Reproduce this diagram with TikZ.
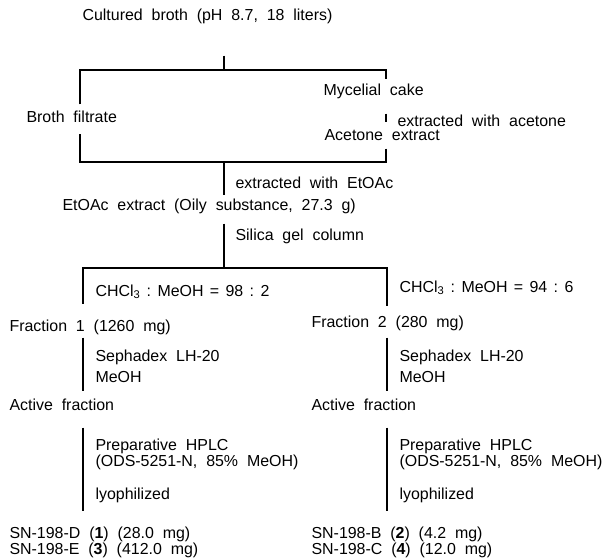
\documentclass[tikz,border=0pt]{standalone}
\usepackage{fontspec}
\setmainfont{Liberation Sans}[WordSpace=2]
\usetikzlibrary{positioning}

\newcommand\ratiosp{\hspace{0.4em}}

\tikzset{
  stage/.style={anchor=west, inner sep=0pt, text height=11.5bp, text depth=3.5bp},
  cond/.style={stage},
  block/.style={anchor=west, inner sep=0pt, align=left},
}

\begin{document}
\begin{tikzpicture}[x=1bp, y=-1bp, line width=1.1bp,
    font=\fontsize{16}{12.5}\selectfont]%

\useasboundingbox (0,0) rectangle (614,559);

\node [stage] (broth) at (82,17) {Cultured broth (pH 8.7, 18 liters)};
\node [stage] (filtrate) at (26,119) {Broth filtrate};
\node [stage] (mycelium) at (323,92) {Mycelial cake};
\node [stage] (acetone) at (324,137) {Acetone extract};
\node [stage] (etoac) at (62,207) {EtOAc extract (Oily substance, 27.3 g)};

\coordinate (top-c) at (224,70);
\coordinate (top-l) at (80,70);
\coordinate (top-r) at (386,70);
\coordinate (bot-c) at (224,162);
\coordinate (bot-l) at (80,162);
\coordinate (bot-r) at (386,162);
\coordinate (mid-c) at (224,268);

\draw [shorten <=30.5bp] (broth.south -| top-c) -- (top-c);
\draw [shorten <=6.5bp, shorten >=4.5bp] (filtrate.north -| top-l) -- (top-l)
  -- (top-r) -- (mycelium.north -| top-r);
\draw [shorten <=13.5bp, shorten >=6.5bp] (mycelium.south -| top-r)
  -- (acetone.north -| top-r);
\node [cond] at (397,123) {extracted with acetone};
\draw [shorten <=3.5bp, shorten >=6.5bp] (acetone.south -| bot-r) -- (bot-r)
  -- (bot-l) -- (filtrate.south -| bot-l);

\draw [shorten >=3.5bp] (bot-c) -- (etoac.north -| bot-c);
\node [cond] at (235,185) {extracted with EtOAc};

\draw [shorten <=8.5bp] (etoac.south -| mid-c) -- (mid-c);
\node [cond] at (235,237) {Silica gel column};

\foreach \i/\x/\tx/\dy/\ratio/\fname/\pname in {
    1/83/9/0/{98\ratiosp:\ratiosp2}/{Fraction 1 (1260 mg)}/{SN-198-D (\textbf{1}) (28.0 mg)\\SN-198-E (\textbf{3}) (412.0 mg)},
    2/387/311/-4/{94\ratiosp:\ratiosp6}/{Fraction 2 (280 mg)}/{SN-198-B (\textbf{2}) (4.2 mg)\\SN-198-C (\textbf{4}) (12.0 mg)}} {
  \coordinate (col-\i) at (\x,268);
  \node [stage] (frac-\i) at (\tx,327+\dy) {\fname};
  \node [stage] (active-\i) at (\tx,406) {Active fraction};
  \node [block] (prod-\i) at (\tx,542.5) {\pname};

  \node [cond] at (\x+12,292+\dy) {CHCl\textsubscript{3}\ratiosp:\ratiosp MeOH\ratiosp=\ratiosp\ratio};
  \node [cond] at (\x+12,357) {Sephadex LH-20};
  \node [cond] at (\x+12,378) {MeOH};
  \node [block] at (\x+12,454) {Preparative HPLC\\(ODS-5251-N, 85\% MeOH)};
  \node [cond] at (\x+12,495) {lyophilized};

  \draw [shorten >=(14.5+1.5*\dy)*1bp] (mid-c) -- (col-\i) -- (frac-\i.north -| col-\i);
  \draw [shorten <=(2.5-\dy)*1bp, shorten >=6.5bp] (frac-\i.south -| col-\i)
    -- (active-\i.north -| col-\i);
  \draw [shorten <=13.5bp, shorten >=16bp] (active-\i.south -| col-\i)
    -- (prod-\i.north -| col-\i);
}

\end{tikzpicture}
\end{document}
